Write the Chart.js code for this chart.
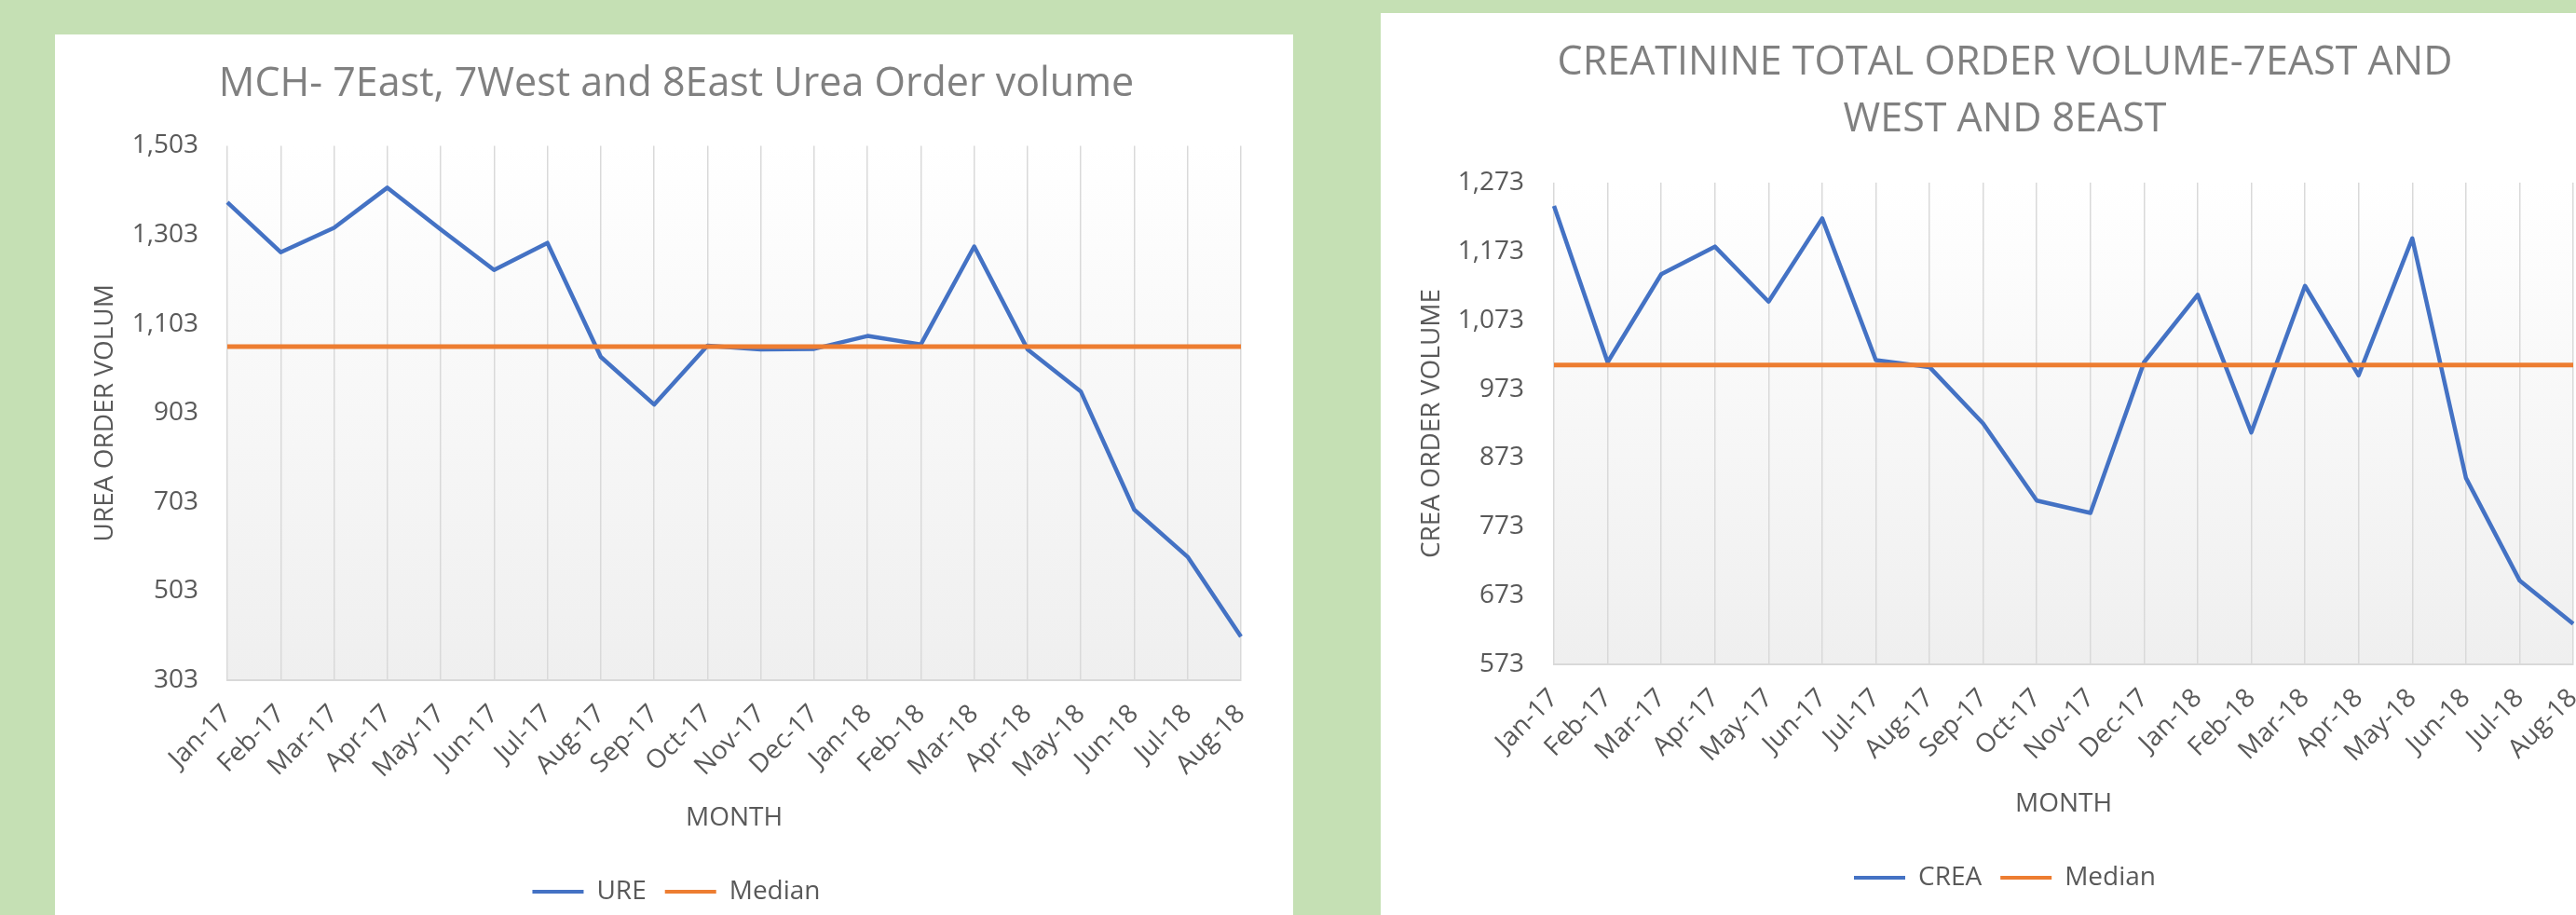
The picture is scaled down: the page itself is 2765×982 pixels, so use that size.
<!DOCTYPE html>
<html>
<head>
<meta charset="utf-8">
<script src="https://cdn.jsdelivr.net/npm/chart.js@4.4.1/dist/chart.umd.min.js"></script>
<style>
  html, body { margin: 0; padding: 0; }
  body { width: 2765px; height: 982px; overflow: hidden; background: #c5e0b4; position: relative; }
  .panel { position: absolute; background: #ffffff; }
  #panelUrea { left: 59px; top: 37px; width: 1329px; height: 960px; }
  #panelCrea { left: 1482px; top: 14px; width: 1329px; height: 980px; }
  canvas { display: block; }
</style>
</head>
<body>
<div class="panel" id="panelUrea"><canvas id="ureaChart" width="1329" height="945"></canvas></div>
<div class="panel" id="panelCrea"><canvas id="creaChart" width="1329" height="968"></canvas></div>
<script>
// ---------- data ----------
const months = ["Jan-17", "Feb-17", "Mar-17", "Apr-17", "May-17", "Jun-17", "Jul-17", "Aug-17", "Sep-17", "Oct-17",
  "Nov-17", "Dec-17", "Jan-18", "Feb-18", "Mar-18", "Apr-18", "May-18", "Jun-18", "Jul-18", "Aug-18"];

const ureaVolume = [1376, 1264, 1319, 1409, 1315, 1224, 1285, 1029, 922, 1054,
  1046, 1047, 1076, 1057, 1277, 1046, 951, 686, 580, 401];
const ureaMedian = [1052, 1052, 1052, 1052, 1052, 1052, 1052, 1052, 1052, 1052,
  1052, 1052, 1052, 1052, 1052, 1052, 1052, 1052, 1052, 1052];
const ureaTicks = [303, 503, 703, 903, 1103, 1303, 1503];

const creaVolume = [1239, 1012, 1140, 1180, 1100, 1221, 1015, 1005, 923, 811,
  793, 1012, 1110, 910, 1123, 993, 1192, 844, 695, 632];
const creaMedian = [1008, 1008, 1008, 1008, 1008, 1008, 1008, 1008, 1008, 1008,
  1008, 1008, 1008, 1008, 1008, 1008, 1008, 1008, 1008, 1008];
const creaTicks = [573, 673, 773, 873, 973, 1073, 1173, 1273];

Chart.defaults.font.family = "'Open Sans', sans-serif";
Chart.defaults.color = '#595959';

// light grey fade behind the plot, like the Excel plot area
const plotShade = {
  id: 'plotShade',
  beforeDraw(chart) {
    const { ctx, chartArea: a } = chart;
    const g = ctx.createLinearGradient(0, a.top, 0, a.bottom);
    g.addColorStop(0, '#ffffff');
    g.addColorStop(1, '#efefef');
    ctx.save();
    ctx.fillStyle = g;
    ctx.fillRect(a.left, a.top, a.right - a.left, a.bottom - a.top);
    ctx.restore();
  }
};

function lineChart(canvasId, s) {
  return new Chart(document.getElementById(canvasId).getContext('2d'), {
    type: 'line',
    data: {
      labels: months,
      datasets: [{
        label: s.seriesName,
        data: s.values,
        borderColor: '#4472c4',
        backgroundColor: '#4472c4',
        borderWidth: 4.5,
        pointRadius: 0,
        tension: 0,
        borderJoinStyle: 'round',
        order: 1
      }, {
        label: 'Median',
        data: s.median,
        borderColor: '#ed7d31',
        backgroundColor: '#ed7d31',
        borderWidth: 5,
        pointRadius: 0,
        order: 0
      }]
    },
    options: {
      responsive: false,
      animation: false,
      devicePixelRatio: 1,
      layout: { padding: s.padding },
      plugins: {
        title: {
          display: true,
          text: s.title,
          color: '#808080',
          font: { size: 43, weight: 'normal', lineHeight: 1.43 },
          padding: { top: 23, bottom: s.titleGap }
        },
        legend: {
          position: 'bottom',
          labels: {
            boxWidth: 55,
            boxHeight: 4,
            padding: 20,
            color: '#595959',
            font: { size: 28 },
            sort: (a, b) => a.datasetIndex - b.datasetIndex,
            generateLabels: chart => Chart.defaults.plugins.legend.labels.generateLabels(chart)
              .map(item => Object.assign(item, { lineWidth: 0 }))
          }
        },
        tooltip: { enabled: false }
      },
      scales: {
        x: {
          grid: { color: '#d9d9d9', lineWidth: 1.5, drawTicks: false },
          border: { color: '#d9d9d9', width: 2 },
          ticks: { autoSkip: false, minRotation: 45, maxRotation: 45, padding: 20, font: { size: 28 }, color: '#595959' },
          title: { display: true, text: 'MONTH', color: '#595959', font: { size: 28 }, padding: { top: 0, bottom: 28 } },
          afterFit: sc => { sc.height = s.xHeight; }
        },
        y: {
          min: s.ticks[0],
          max: s.ticks[s.ticks.length - 1],
          afterBuildTicks: sc => { sc.ticks = s.ticks.map(v => ({ value: v })); },
          grid: { display: false, drawTicks: false },
          border: { display: false },
          ticks: { padding: s.tickPad, font: { size: 28 }, color: '#595959', callback: v => v.toLocaleString('en-US') },
          title: { display: true, text: s.yTitle, color: '#595959', font: { size: 28 }, padding: { top: s.yTitlePad, bottom: 0 } },
          afterFit: sc => { sc.width = s.yWidth; }
        }
      }
    },
    plugins: [plotShade]
  });
}

// ------------------- UREA -------------------
let chartUrea = lineChart('ureaChart', {
  title: 'MCH- 7East, 7West and 8East Urea Order volume',
  seriesName: 'URE',
  values: ureaVolume,
  median: ureaMedian,
  ticks: ureaTicks,
  yTitle: 'UREA ORDER VOLUM',
  padding: { left: 61, right: 56, top: 0, bottom: 1 },
  titleGap: 35,
  yWidth: 124,
  yTitlePad: -23.8,
  tickPad: 31,
  xHeight: 193
});

// ------------------- CREATININE -------------------
let chartCrea = lineChart('creaChart', {
  title: ['CREATININE TOTAL ORDER VOLUME-7EAST AND', 'WEST AND 8EAST'],
  seriesName: 'CREA',
  values: creaVolume,
  median: creaMedian,
  ticks: creaTicks,
  yTitle: 'CREA ORDER VOLUME',
  padding: { left: 60, right: 49, top: 0, bottom: 16 },
  titleGap: 36,
  yWidth: 126,
  yTitlePad: -21.8,
  tickPad: 32,
  xHeight: 195
});
</script>
</body>
</html>
